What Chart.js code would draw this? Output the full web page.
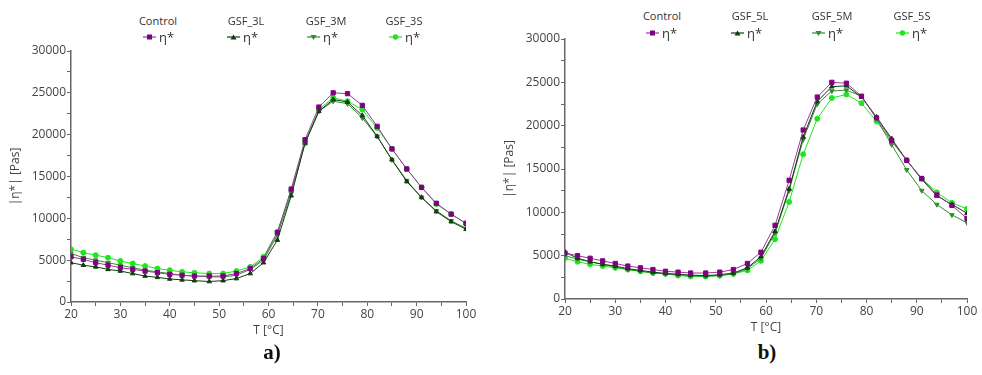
<!DOCTYPE html>
<html>
<head>
<meta charset="utf-8">
<script src="https://cdn.jsdelivr.net/npm/chart.js@4/dist/chart.umd.min.js"></script>
<style>
  body { margin: 0; background: #fff; width: 982px; height: 375px; overflow: hidden; position: relative; font-family: "Open Sans", sans-serif; }
  .box { position: absolute; }
  .name { position: absolute; font-size: 11px; color: #333; transform: translate(-50%, -50%); white-space: nowrap; }
  .sym { position: absolute; font-size: 13px; color: #333; transform: translateY(-50%); white-space: nowrap; display: flex; align-items: center; }
  .cap { position: absolute; font-family: "Liberation Serif", serif; font-weight: bold; font-size: 21px; color: #111; transform: translate(-50%, -50%); }
</style>
</head>
<body>
<div class="box" style="left:0px;top:41px;width:480px;height:301px"><canvas id="chartA"></canvas></div>
<div class="box" style="left:494px;top:29px;width:487px;height:310px"><canvas id="chartB"></canvas></div>
<div id="legA"></div>
<div id="legB"></div>
<div class="cap" style="left:272px;top:352px">a)</div>
<div class="cap" style="left:767px;top:352px">b)</div>
<script>
// temperature points (°C)
var temps = [20, 22.5, 25, 27.5, 30, 32.5, 35, 37.5, 40, 42.5, 45, 48, 50.8, 53.5, 56.3, 59, 61.8, 64.6, 67.4, 70.2, 73.1, 76, 79, 82, 85, 88, 91, 94, 97, 100];

var namesA = ["Control", "GSF_3L", "GSF_3M", "GSF_3S"];
var namesB = ["Control", "GSF_5L", "GSF_5M", "GSF_5S"];

// |eta*| [Pas], panel a)
var controlA = [5400, 5100, 4700, 4400, 4100, 3900, 3700, 3500, 3300, 3200, 3100, 3100, 3100, 3400, 4000, 5200, 8300, 13500, 19400, 23300, 25000, 24900, 23500, 21000, 18300, 15900, 13700, 11800, 10500, 9400];
var gsf3L = [4700, 4400, 4200, 3900, 3700, 3400, 3100, 2950, 2750, 2650, 2550, 2450, 2550, 2800, 3400, 4700, 7400, 12700, 19000, 22800, 24200, 23900, 22300, 19800, 17000, 14400, 12500, 10800, 9600, 8700];
var gsf3M = [5800, 5300, 5000, 4700, 4400, 4100, 3800, 3600, 3400, 3200, 3100, 3000, 3000, 3200, 3900, 5000, 8000, 13000, 19000, 22800, 24000, 23700, 22000, 19800, 17000, 14500, 12500, 10900, 9700, 8800];
var gsf3S = [6300, 5900, 5600, 5300, 4900, 4600, 4300, 4000, 3800, 3600, 3500, 3400, 3400, 3700, 4200, 5400, 8400, 13300, 19000, 23000, 24400, 24000, 23000, 20800, 18300, 15900, 13700, 11700, 10500, 9400];

// |eta*| [Pas], panel b)
var controlB = [5300, 5000, 4700, 4400, 4100, 3800, 3600, 3400, 3200, 3100, 3000, 3000, 3100, 3400, 4100, 5400, 8500, 13700, 19500, 23300, 25000, 24900, 23400, 20900, 18300, 16000, 13900, 12000, 10800, 9300];
var gsf5L = [5400, 4700, 4300, 4000, 3800, 3500, 3300, 3100, 2950, 2850, 2750, 2700, 2800, 3000, 3600, 4900, 7800, 12700, 18700, 22800, 24500, 24600, 23300, 21000, 18500, 16000, 13800, 11900, 10900, 9900];
var gsf5M = [5000, 4600, 4300, 4000, 3700, 3400, 3200, 3000, 2900, 2800, 2700, 2650, 2700, 2900, 3500, 4700, 7600, 12500, 18400, 22500, 24000, 24100, 23400, 20800, 17800, 14900, 12500, 10900, 9700, 8800];
var gsf5S = [4700, 4300, 4000, 3800, 3600, 3400, 3200, 3000, 2900, 2700, 2600, 2600, 2700, 2900, 3300, 4400, 6900, 11200, 16700, 20800, 23200, 23600, 22600, 20500, 18200, 16000, 13900, 12300, 11100, 10400];

var colors = ["#800080", "#123d12", "#2f8f2f", "#1ee61e"];
var lineColors = ["#9a3a9a", "#123d12", "#2f8f2f", "#1ee61e"];
var markers = ["rect", "triangle", "triangle", "circle"];
var rotations = [0, 0, 180, 0];
var radii = [3, 2.6, 2.6, 2.5];

function pts(vals) {
  return temps.map(function (t, i) { return { x: t, y: vals[i] }; });
}

function makeSets(names, series) {
  return series.map(function (s, i) {
    return {
      label: names[i],
      data: pts(s),
      borderColor: lineColors[i],
      backgroundColor: colors[i],
      pointBorderColor: colors[i],
      borderWidth: 1,
      pointBorderWidth: 1,
      pointStyle: markers[i],
      rotation: rotations[i],
      pointRadius: radii[i],
      tension: 0
    };
  });
}

var tickFont = { family: "Open Sans", size: 12 };

function opts() {
  return {
    responsive: true,
    maintainAspectRatio: false,
    animation: false,
    layout: { padding: { left: 0, right: 14, top: 10, bottom: 0 } },
    plugins: { legend: { display: false }, tooltip: { enabled: false } },
    scales: {
      x: {
        type: "linear", min: 20, max: 100,
        ticks: { stepSize: 5, autoSkip: false, maxRotation: 0, padding: 1, color: "#444", font: tickFont,
          callback: function (v) { return v % 10 === 0 ? v : ""; } },
        grid: { drawOnChartArea: false, tickLength: 4, color: "#666" },
        border: { color: "#666", width: 1.5 },
        title: { display: true, text: "T [°C]", color: "#444", font: tickFont },
        afterFit: function (s) { s.height = 40; }
      },
      y: {
        min: 0, max: 30000,
        ticks: { stepSize: 2500, autoSkip: false, padding: 1, color: "#444", font: tickFont,
          callback: function (v) { return v % 5000 === 0 ? v : ""; } },
        grid: { drawOnChartArea: false, tickLength: 4, color: "#666" },
        border: { color: "#666", width: 1.5 },
        title: { display: true, text: "|η*| [Pas]", color: "#444", font: tickFont, padding: { top: 8, bottom: 4 } },
        afterFit: function (s) { s.width = 71; }
      }
    }
  };
}

new Chart(document.getElementById("chartA"), {
  type: "line",
  data: { datasets: makeSets(namesA, [controlA, gsf3L, gsf3M, gsf3S]) },
  options: opts()
});
new Chart(document.getElementById("chartB"), {
  type: "line",
  data: { datasets: makeSets(namesB, [controlB, gsf5L, gsf5M, gsf5S]) },
  options: opts()
});

// legend: series name above, line + marker + "η*" below
function markerSvg(i) {
  var c = colors[i], shape;
  if (markers[i] === "rect") shape = '<rect x="4" y="1.5" width="5" height="5" fill="' + c + '"/>';
  else if (markers[i] === "circle") shape = '<circle cx="6.5" cy="4" r="2.7" fill="' + c + '"/>';
  else if (rotations[i] === 180) shape = '<polygon points="3.5,2 9.5,2 6.5,7" fill="' + c + '"/>';
  else shape = '<polygon points="3.5,6.5 9.5,6.5 6.5,1.5" fill="' + c + '"/>';
  return '<svg width="13" height="8"><line x1="0" y1="4" x2="13" y2="4" stroke="' + lineColors[i] + '" stroke-width="1.2"/>' + shape + '</svg>';
}

function buildLegend(id, names, nameX, nameY, symX, symY) {
  var html = "";
  names.forEach(function (n, i) {
    html += '<div class="name" style="left:' + nameX[i] + 'px;top:' + nameY + 'px">' + n + '</div>';
    html += '<div class="sym" style="left:' + symX[i] + 'px;top:' + symY + 'px">' + markerSvg(i) + '<span style="margin-left:3px">η*</span></div>';
  });
  document.getElementById(id).innerHTML = html;
}

buildLegend("legA", namesA, [158, 246, 326, 404], 20, [143, 227, 307, 389], 37);
buildLegend("legB", namesB, [662, 750, 832, 912], 15, [646, 731, 812, 896], 33);
</script>
</body>
</html>
